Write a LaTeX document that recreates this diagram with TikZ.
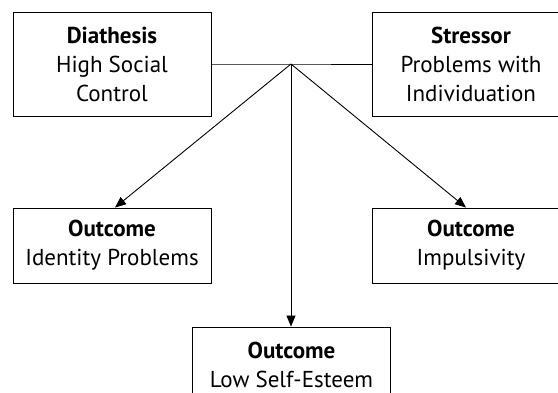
\documentclass[tikz,border=0pt]{standalone}
\usepackage{fontspec}
\setmainfont{PT Sans}
\usetikzlibrary{arrows.meta}
\begin{document}
\begin{tikzpicture}[x=1pt,y=-1pt,
  box/.style={draw=black, line width=0.9pt, rectangle, align=center,
    font=\fontsize{23}{29}\selectfont, inner sep=0pt, minimum width=198pt},
  link/.style={line width=0.9pt, draw=black},
  arrowlink/.style={link, -{Triangle[length=11pt,width=9pt]}}]
  \useasboundingbox (0,0) rectangle (558,393);
  \clip (0,0) rectangle (558,393);
  % causes
  \node[box, minimum height=104pt] (dia) at (112,64)
    {\textbf{Diathesis}\\High Social\\Control};
  \node[box, minimum height=104pt] (str) at (471,64)
    {\textbf{Stressor}\\Problems with\\Individuation};
  % outcomes
  \node[box, minimum height=75pt] (id) at (112,245.5)
    {\textbf{Outcome}\\Identity Problems};
  \node[box, minimum height=75pt] (imp) at (471,245.5)
    {\textbf{Outcome}\\Impulsivity};
  \node[box, minimum height=75pt] (low) at (291.5,364.5)
    {\textbf{Outcome}\\Low Self-Esteem};
  % junction of the two causes
  \coordinate (j) at (291,64);
  \draw[link] (dia.east) -- (j) -- (str.west);
  \draw[arrowlink] (j) -- ([xshift=3pt]id.north);
  \draw[arrowlink] (j) -- ([xshift=-5pt]imp.north);
  \draw[arrowlink] (j) -- (low.north -| j);
\end{tikzpicture}
\end{document}
